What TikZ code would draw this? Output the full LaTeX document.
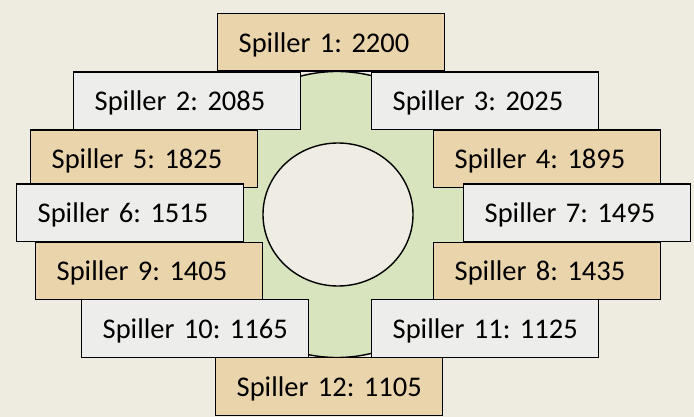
\documentclass[tikz,border=0pt]{standalone}
\usepackage{fontspec}
\setmainfont{Carlito}
\usetikzlibrary{shapes.geometric}
\definecolor{bgc}{HTML}{EEEBE1}
\definecolor{tanc}{HTML}{EAD4AB}
\definecolor{greyc}{HTML}{EDEDEC}
\definecolor{greenc}{HTML}{D7E4BD}
\definecolor{hubc}{HTML}{EFEDE3}
\tikzset{
  player/.style={draw=black, line width=1.4pt, rectangle, anchor=north west,
    minimum width=227pt, minimum height=57.5pt, inner xsep=21pt, inner ysep=0pt,
    text width=185pt, align=left, text height=21pt, text depth=1.5pt,
    font=\fontsize{28.5}{34}\selectfont\frenchspacing},
  tanbox/.style={player, fill=tanc},
  greybox/.style={player, fill=greyc},
  disc/.style={draw=black, line width=1.4pt}
}
\begin{document}
\begin{tikzpicture}[x=1pt, y=-1pt]
\fill[bgc] (0,0) rectangle (694,417);
\useasboundingbox (0,0) rectangle (694,417);
\node[disc, circle, fill=greenc, minimum size=286pt, inner sep=0pt] (ring) at (337,214.5) {};
\node[disc, ellipse, fill=hubc, minimum width=150pt, minimum height=143pt, inner sep=0pt] (hub) at (338,214.5) {};
\node[tanbox]  (p1)  at (217,13)  {\mbox{Spiller 1: 2200}};
\node[greybox] (p2)  at (73,71.5) {\mbox{Spiller 2: 2085}};
\node[greybox] (p3)  at (371,71.5) {\mbox{Spiller 3: 2025}};
\node[tanbox]  (p4)  at (433,129.5) {\mbox{Spiller 4: 1895}};
\node[tanbox]  (p5)  at (30,129.5) {\mbox{Spiller 5: 1825}};
\node[greybox] (p6)  at (16,183.5) {\mbox{Spiller 6: 1515}};
\node[greybox] (p7)  at (463,183.5) {\mbox{Spiller 7: 1495}};
\node[tanbox]  (p8)  at (433,241.5) {\mbox{Spiller 8: 1435}};
\node[tanbox]  (p9)  at (35,241.5) {\mbox{Spiller 9: 1405}};
\node[greybox] (p10) at (81,299) {\mbox{Spiller 10: 1165}};
\node[greybox] (p11) at (371,299) {\mbox{Spiller 11: 1125}};
\node[tanbox]  (p12) at (215,357) {\mbox{Spiller 12: 1105}};
\end{tikzpicture}
\end{document}
